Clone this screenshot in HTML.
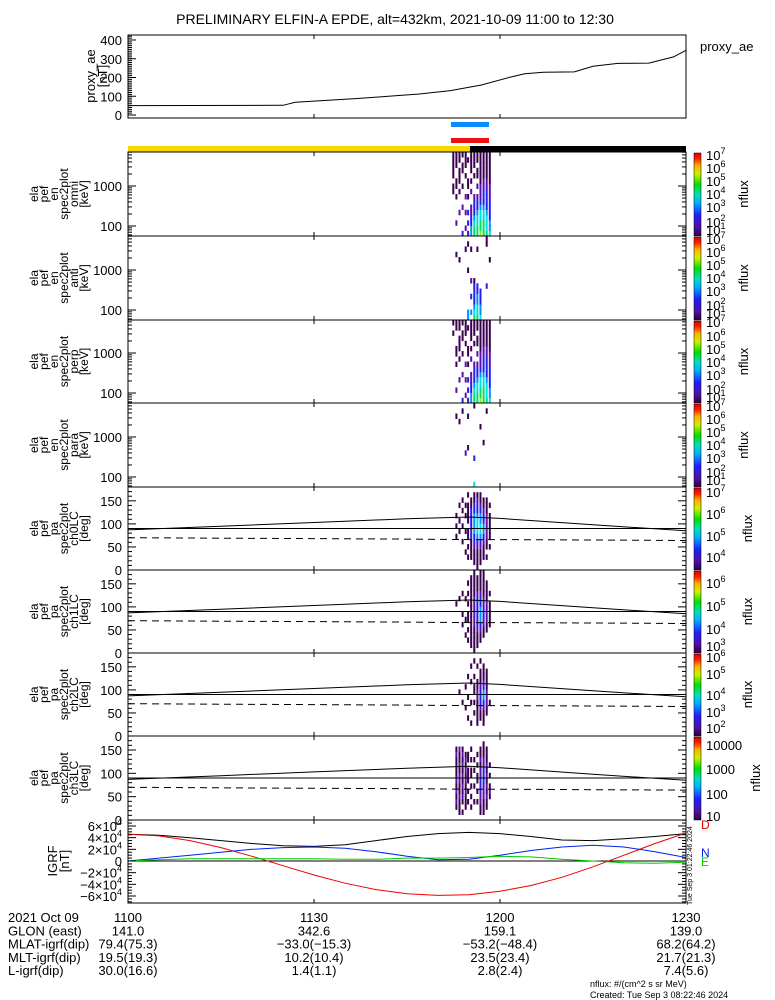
<!DOCTYPE html>
<html><head><meta charset="utf-8"><style>
html,body{margin:0;padding:0;background:#fff;}
svg{display:block;font-family:"Liberation Sans",sans-serif;}
</style></head><body>
<svg id="c" width="775" height="1000" xmlns="http://www.w3.org/2000/svg">
<rect width="775" height="1000" fill="#fff"/>
<text x="395" y="24" font-size="14" text-anchor="middle">PRELIMINARY ELFIN-A EPDE, alt=432km, 2021-10-09 11:00 to 12:30</text>
</svg>
<script>
// ---- data ----
const aeTimes=[0,25,27,32,37,42,47,52,57,62,64,67,72,75,79,84,88,90];
const aeValues=[50,52,68,78,88,100,112,130,160,205,220,228,230,260,275,277,310,345];
const igrfTimes=[0,5,10,15,20,25,30,35,40,45,50,55,60,65,70,75,80,85,90];
const igrfTotal=[4.6,4.4,4.0,3.5,3.0,2.6,2.5,2.8,3.5,4.2,4.7,4.9,4.7,4.2,3.6,3.5,3.8,4.2,4.7];
const igrfD=[4.6,4.3,3.5,2.3,0.8,-0.8,-2.4,-3.8,-4.9,-5.6,-5.9,-5.8,-5.2,-4.2,-2.8,-1.0,1.0,3.0,4.8];
const igrfN=[0,0.5,1.0,1.5,2.0,2.3,2.4,2.2,1.6,0.8,0.2,0.3,1.0,1.8,2.4,2.7,2.4,1.6,0.6];
const igrfE=[0,0.2,0.4,0.4,0.4,0.4,0.4,0.3,0.3,0.5,0.5,0.6,0.8,0.7,0.3,0,-0.3,-0.4,-0.2];
const lcTimes=[0,15,30,45,55,60,75,90];
const lcSolid=[87,95,103,111,115,112,98,85];
const lcDashed=[70,69,68,67,66,66,65,64];
const colTimes=[52.3,52.8,53.3,53.8,54.3,54.7,55.2,55.7,56.2,56.7,57.2,57.7,58.2,58.7];
const specOmni=["0000000011011111","0020000101100111","0000200010111011","3000020001001101","0200200200010111","2030300101100010","4433220020101111","6654333200010111","6655433202011011","7665543222111111","6665543332211111","6555433332211111","5443333222111111","0000000000000000"];
const specAnti=["0000000000000000","0000000000001000","0000000000010000","0000000000000000","0000000000000100","4400000001000010","0400300200000100","6543333100000000","6554433000000100","5443330000000000","0000000000000000","0000003000000011","0000000000010000","0000000000000000"];
const specPerp=["0000000000000101","0020000101100011","0000200010111011","3000020001001101","0200200200010111","2030300101100010","4433220020101111","6654333200010111","6655433202011011","7665543222111111","6665543332211111","6555433332211111","5443333222111111","0000000000000000"];
const specPara=["0000000000000000","0000000000000100","0000000000001000","0000000000000010","0000002000000000","0000000100000100","0000000000000000","5000030000000001","0000000000000000","0000000000010000","0000000010000000","0000000000000010","0000000000000000","0000000000000000"];
const pa0=["0000000000000000","0000001010100000","0000000101001000","0000010010010100","0001000100101000","0010101101111010","0011113333331100","0111233444433110","1111234555433210","0111234554432110","0011123443321100","0010112222211100","0000101111101000","0000000000000000"];
const pa1=["0000000000000000","0000000001000000","0000000000100000","0000010100010000","0001001000100000","0010101101010100","0111111111111110","1111122222211111","0111233333321110","0011234443321111","0001123332211111","0000112222111100","0000011111010000","0000000000000000"];
const pa2=["0000000000000000","0000000000000000","0000000010000000","0000001000000000","0000010001000000","0001000100010000","0010001000100100","0000101011010010","0011111221100100","0001123332111010","0011123443211100","0000112221111000","0000001000000000","0000000000000000"];
const pa3=["0000000000000000","0012121211112100","0111211221211200","0101212121212100","0011121212121000","0001010111011000","0010101011010100","0001001001010000","0001010110101000","0112223322121100","0111232333221110","0011212121211100","0000121010100000","0000000000000000"];
// ---- helpers ----
const svg=document.getElementById('c');const NS='http://www.w3.org/2000/svg';
function mk(tag,at,parent){const e=document.createElementNS(NS,tag);for(const k in at)e.setAttribute(k,at[k]);(parent||svg).appendChild(e);return e;}
const X0=128,X1=686;
function xT(t){return X0+t*(X1-X0)/90;}
const pal=['none','#3a0050','#5a10a8','#2020f0','#0090ff','#00e0e0','#00e060','#a0f000'];
const tops=[152,236,320,403,487,570,653,736,820];
// proxy_ae panel
const aeT=35,aeB=118;
function yAE(v){return 115-v*75/400;}
let r=mk('rect',{x:X0,y:aeT,width:X1-X0,height:aeB-aeT,fill:'none',stroke:'#000'});

let d='';for(let i=0;i<aeTimes.length;i++){d+=(i?'L':'M')+xT(aeTimes[i]).toFixed(1)+','+yAE(aeValues[i]).toFixed(1);}
let p=mk('path',{d:d,fill:'none',stroke:'#000'});

[0,100,200,300,400].forEach(v=>{mk('line',{x1:X0,x2:X0+8,y1:yAE(v),y2:yAE(v),stroke:'#000'});let t=mk('text',{x:122,y:yAE(v)+5,'font-size':13,'text-anchor':'end'});t.textContent=v;
});
for(let v=0;v<=420;v+=10)mk('line',{x1:X0,x2:X0+4,y1:yAE(v),y2:yAE(v),stroke:'#000'});
[30,60].forEach(t=>{mk('line',{x1:xT(t),x2:xT(t),y1:aeT,y2:aeT+4,stroke:'#000'});mk('line',{x1:xT(t),x2:xT(t),y1:aeB,y2:aeB-4,stroke:'#000'});});
let tl=mk('text',{x:700,y:51,'font-size':13});tl.textContent='proxy_ae';
let yl=mk('text',{transform:'translate(95,76) rotate(-90)','font-size':13,'text-anchor':'middle'});
yl.innerHTML='<tspan x="0" dy="0">proxy_ae</tspan><tspan x="0" dy="12">[nT]</tspan>';

// bars
let b1=mk('rect',{x:451,y:122,width:38,height:5,fill:'#0a8cff'});
let b2=mk('rect',{x:451,y:138,width:38,height:5,fill:'#ee1010'});
let b3=mk('rect',{x:X0,y:146,width:342,height:6,fill:'#f8d800'});
let b4=mk('rect',{x:470,y:146,width:X1-470,height:6,fill:'#000'});
// gradient for colorbars
const defs=mk('defs',{});const g=mk('linearGradient',{id:'rb',x1:0,y1:1,x2:0,y2:0},defs);
[['0','#2a0040'],['0.1','#5010a0'],['0.25','#2020ff'],['0.4','#00b0ff'],['0.5','#00e0c0'],['0.62','#00e000'],['0.75','#d0f000'],['0.85','#ffb000'],['0.93','#ff2000'],['1','#e00000']].forEach(s=>mk('stop',{offset:s[0],'stop-color':s[1]},g));
// panels
const specSets=[specOmni,specAnti,specPerp,specPara,pa0,pa1,pa2,pa3];
const specNames=['omni','anti','perp','para','ch0LC','ch1LC','ch2LC','ch3LC'];
const cbLabels=[[[7,155],[6,168],[5,181],[4,194],[3,207],[2,222],[1,230]],[[7,239],[6,252],[5,265],[4,278],[3,291],[2,305],[1,313]],[[7,322],[6,336],[5,349],[4,362],[3,375],[2,389],[1,397]],[[7,406],[6,419],[5,432],[4,445],[3,458],[2,472],[1,480]],[[7,492],[6,514],[5,536],[4,557]],[[6,583],[5,606],[4,629],[3,646]],[[6,657],[5,674],[4,695],[3,712],[2,728]]];
for(let k=0;k<8;k++){
 const top=tops[k],bot=tops[k+1],h=bot-top;const isE=k<4;
 const gp=mk('g',{});
 const cols=specSets[k];const nb=16;const bh=h/nb;
 for(let i=0;i<cols.length;i++){const s=cols[i];for(let j=0;j<nb;j++){const c=+s[j];if(!c)continue;
  const x=xT(colTimes[i]);
  const cell=mk('rect',{x:x.toFixed(1),y:(bot-(j+1)*bh).toFixed(1),width:2,height:(bh+0.3).toFixed(1),fill:pal[c]},gp);
  }}
 mk('rect',{x:X0,y:top,width:X1-X0,height:h,fill:'none',stroke:'#000'},gp);
 [30,60].forEach(t=>{mk('line',{x1:xT(t),x2:xT(t),y1:top,y2:top+4,stroke:'#000'},gp);mk('line',{x1:xT(t),x2:xT(t),y1:bot,y2:bot-4,stroke:'#000'},gp);});
 if(isE){
  const yE=l=>bot-(l-1.75)*40;
  for(let dec=1;dec<=3;dec++)for(let m=1;m<10;m++){const y=yE(dec+Math.log10(m));if(y<top||y>bot)continue;const L=m==1?8:4;
   mk('line',{x1:X0,x2:X0+L,y1:y,y2:y,stroke:'#000'},gp);mk('line',{x1:X1,x2:X1-L,y1:y,y2:y,stroke:'#000'},gp);}
  [[1000,3],[100,2]].forEach(v=>{const t=mk('text',{x:122,y:yE(v[1])+5,'font-size':13,'text-anchor':'end'},gp);t.textContent=v[0];});
 } else {
  const yP=dg=>bot-dg/180*h;
  for(let dg=0;dg<=180;dg+=10){const L=dg%50==0?8:4;mk('line',{x1:X0,x2:X0+L,y1:yP(dg),y2:yP(dg),stroke:'#000'},gp);mk('line',{x1:X1,x2:X1-L,y1:yP(dg),y2:yP(dg),stroke:'#000'},gp);}
  [0,50,100,150].forEach(v=>{const t=mk('text',{x:122,y:yP(v)+5,'font-size':13,'text-anchor':'end'},gp);t.textContent=v;});
  let d1='',d2='';for(let i=0;i<lcTimes.length;i++){d1+=(i?'L':'M')+xT(lcTimes[i]).toFixed(1)+','+yP(lcSolid[i]).toFixed(1);d2+=(i?'L':'M')+xT(lcTimes[i]).toFixed(1)+','+yP(lcDashed[i]).toFixed(1);}
  const l1=mk('path',{d:d1,fill:'none',stroke:'#000'},gp);
  const l0=mk('line',{x1:X0,x2:X1,y1:yP(90),y2:yP(90),stroke:'#000'},gp);
  const l2=mk('path',{d:d2,fill:'none',stroke:'#000','stroke-dasharray':'7,5'},gp);
 }
 // axis title
 const lines=['ela','pef',isE?'en':'pa','spec2plot',specNames[k],isE?'[keV]':'[deg]'];
 const at=mk('text',{transform:'translate(38,'+(top+h/2)+') rotate(-90)','font-size':12,'text-anchor':'middle'},gp);
 at.innerHTML=lines.map((s,i)=>'<tspan x="0" dy="'+(i?10:0)+'">'+s+'</tspan>').join('');
 
 // colorbar
 const cb=mk('rect',{x:694,y:top+1,width:7,height:h-1,fill:'url(#rb)',stroke:'#000','stroke-width':0.5});
 
 const cl=mk('text',{transform:'translate('+(k==7?760:(k<4?748:752))+','+(top+h/2)+') rotate(-90)','font-size':13,'text-anchor':'middle'});cl.textContent='nflux';
 
 if(k<7){cbLabels[k].forEach(l=>{const t=mk('text',{x:706,y:l[1]+5,'font-size':13});t.innerHTML='10<tspan dy="-6" font-size="9">'+l[0]+'</tspan>';});}
 else{[['10000',745],['1000',769],['100',794],['10',816]].forEach(l=>{const t=mk('text',{x:706,y:l[1]+5,'font-size':13});t.textContent=l[0];});}
}
// IGRF panel
const iT=820,iB=903;const yI=v=>861-v*35/6;
const gi=mk('g',{});
mk('rect',{x:X0,y:iT,width:X1-X0,height:iB-iT,fill:'none',stroke:'#000'},gi);
mk('line',{x1:X0,x2:X1,y1:yI(0),y2:yI(0),stroke:'#000'},gi);
[[igrfTotal,'#000','igrf-total-line'],[igrfD,'#ee0000','igrf-d-line'],[igrfN,'#0020ee','igrf-n-line'],[igrfE,'#00cc00','igrf-e-line']].forEach(s=>{
 let dd='';for(let i=0;i<igrfTimes.length;i++)dd+=(i?'L':'M')+xT(igrfTimes[i]).toFixed(1)+','+yI(s[0][i]).toFixed(1);
 const pp=mk('path',{d:dd,fill:'none',stroke:s[1]},gi);});
for(let v=-7;v<=7;v+=0.5){const y=yI(v);if(y<iT||y>iB)continue;const L=v%2==0?8:4;mk('line',{x1:X0,x2:X0+L,y1:y,y2:y,stroke:'#000'},gi);mk('line',{x1:X1,x2:X1-L,y1:y,y2:y,stroke:'#000'},gi);}
[30,60].forEach(t=>{mk('line',{x1:xT(t),x2:xT(t),y1:iT,y2:iT+4,stroke:'#000'},gi);mk('line',{x1:xT(t),x2:xT(t),y1:iB,y2:iB-4,stroke:'#000'},gi);});
[6,4,2,0,-2,-4,-6].forEach(v=>{const t=mk('text',{x:122,y:yI(v)+5,'font-size':13,'text-anchor':'end'},gi);
 t.innerHTML=v==0?'0':(v<0?'\u2212':'')+Math.abs(v)+'\u00d710<tspan dy="-6" font-size="9">4</tspan>';});
const it=mk('text',{transform:'translate(57,861) rotate(-90)','font-size':13,'text-anchor':'middle'});
it.innerHTML='<tspan x="0" dy="0">IGRF</tspan><tspan x="0" dy="12">[nT]</tspan>';
[['D','#ee0000',829],['N','#0020ee',857],['E','#00cc00',866]].forEach(s=>{const t=mk('text',{x:701,y:s[2],'font-size':12,fill:s[1]});t.textContent=s[0];});
const ts=mk('text',{transform:'translate(692,905) rotate(-90)','font-size':7});ts.textContent='Tue Sep  3 01:22:46 2024';
// bottom annotation table
const rowLabels=['2021 Oct 09','GLON (east)','MLAT-igrf(dip)','MLT-igrf(dip)','L-igrf(dip)'];
const c1=['1100','141.0','79.4(75.3)','19.5(19.3)','30.0(16.6)'];
const c2=['1130','342.6','-33.0(-15.3)','10.2(10.4)','1.4(1.1)'];
const c3=['1200','159.1','-53.2(-48.4)','23.5(23.4)','2.8(2.4)'];
const c4=['1230','139.0','68.2(64.2)','21.7(21.3)','7.4(5.6)'];
for(let i=0;i<5;i++){const y=922+i*13.3;
 const t0=mk('text',{x:8,y:y,'font-size':13});t0.textContent=rowLabels[i];
 [[c1,128],[c2,314],[c3,500],[c4,686]].forEach(c=>{const t=mk('text',{x:c[1],y:y,'font-size':13,'text-anchor':'middle'});t.textContent=c[0][i].replace(/-/g,'\u2212');});}
const f1=mk('text',{x:590,y:987,'font-size':9});f1.textContent='nflux: #/(cm^2 s sr MeV)';
const f2=mk('text',{x:590,y:998,'font-size':9});f2.textContent='Created: Tue Sep  3 08:22:46 2024';
</script>
</body></html>
